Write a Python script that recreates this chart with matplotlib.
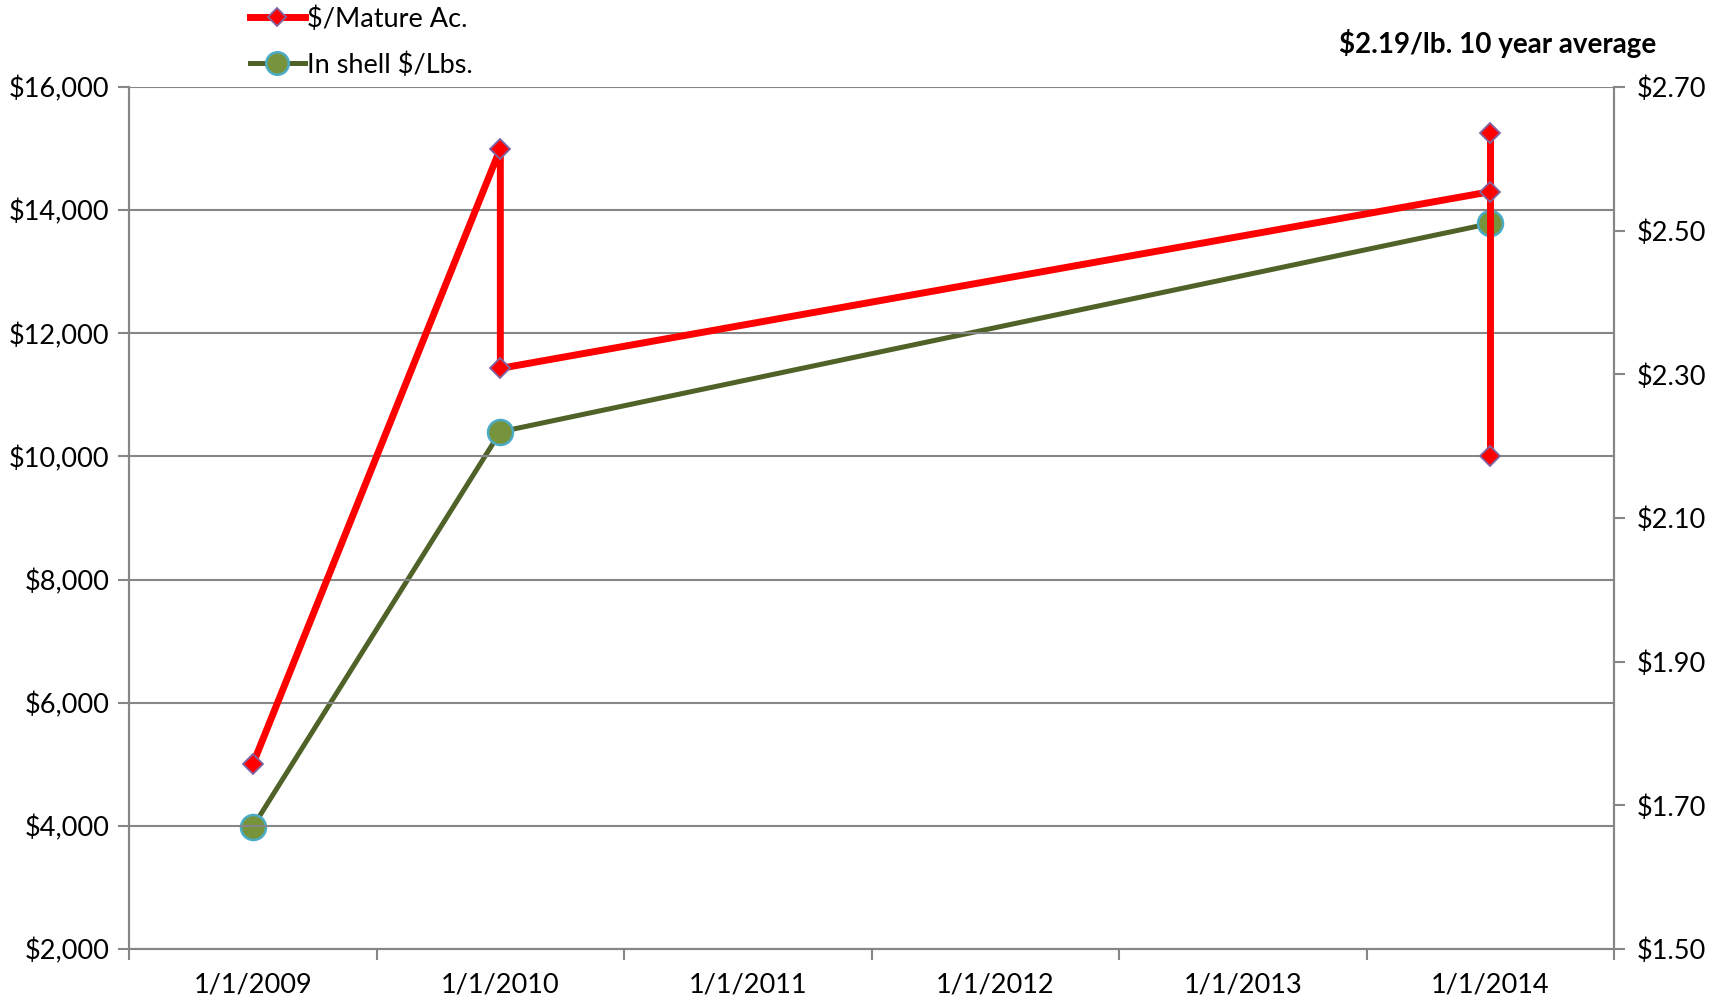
import matplotlib
matplotlib.use('Agg')
import matplotlib.pyplot as plt
from matplotlib.ticker import FuncFormatter

plt.rcParams['font.family'] = ['Lato', 'DejaVu Sans']

# data
categories = ['1/1/2009', '1/1/2010', '1/1/2011', '1/1/2012', '1/1/2013', '1/1/2014']
mature_dates = ['1/1/2009', '1/1/2010', '1/1/2010', '1/1/2014', '1/1/2014', '1/1/2014']
mature_values = [5000, 15000, 11430, 14300, 15250, 10000]
shell_dates = ['1/1/2009', '1/1/2010', '1/1/2014']
shell_values = [1.67, 2.22, 2.51]

mature_x = [categories.index(d) for d in mature_dates]
shell_x = [categories.index(d) for d in shell_dates]

grey = '#868686'
fs = 19.5

fig = plt.figure(figsize=(17.25, 10), dpi=100)
ax = fig.add_axes([0.0748, 0.051, 0.861, 0.862])
ax2 = ax.twinx()

ax.plot(mature_x, mature_values, color='#FF0000', lw=5, marker='D', ms=10,
        mfc='#FF0000', mec='#8064A2', mew=1.3, label='$/Mature Ac.', zorder=4)
ax2.plot(shell_x, shell_values, color='#4F6228', lw=3.6, marker='o', ms=18,
         mfc='#77933C', mec='#4BACC6', mew=1.8, label='In shell $/Lbs.', zorder=3)

ax.set_zorder(ax2.get_zorder() + 1)
ax.patch.set_visible(False)

ax.set_ylim(2000, 16000)
ax.set_yticks(range(2000, 16001, 2000))
ax.yaxis.set_major_formatter(FuncFormatter(lambda v, p: '${:,.0f}'.format(v)))
ax.grid(axis='y', color=grey, lw=1.5)

ax2.set_ylim(1.5, 2.7)
ax2.set_yticks([1.5, 1.7, 1.9, 2.1, 2.3, 2.5, 2.7])
ax2.yaxis.set_major_formatter(FuncFormatter(lambda v, p: '${:.2f}'.format(v)))

ax.set_xlim(-0.5, len(categories) - 0.5)
ax.set_xticks([i - 0.5 for i in range(len(categories) + 1)])
ax.set_xticklabels([])
ax.set_xticks(range(len(categories)), minor=True)
ax.set_xticklabels(categories, minor=True)
ax.tick_params(axis='x', which='minor', length=0, pad=17, labelsize=fs)
ax.tick_params(axis='x', which='major', length=8, width=1.5, color=grey)
ax.tick_params(axis='y', length=8, width=1.5, color=grey, labelsize=fs, pad=6)
ax2.tick_params(axis='y', length=8, width=1.5, color=grey, labelsize=fs, pad=8)

for a in (ax, ax2):
    a.spines['top'].set_visible(False)
    for s in ('left', 'right', 'bottom'):
        a.spines[s].set_color(grey)
        a.spines[s].set_linewidth(1.5)

fig.text(0.96, 0.956, '$2.19/lb. 10 year average', ha='right', va='center',
         fontsize=fs + 0.5, fontweight='bold')

h1, l1 = ax.get_legend_handles_labels()
h2, l2 = ax2.get_legend_handles_labels()
fig.legend(h1 + h2, l1 + l2, loc='upper left', bbox_to_anchor=(0.131, 1.018),
           frameon=False, fontsize=fs, handlelength=2.0, handletextpad=0.1,
           labelspacing=0.75, markerscale=0.9)

fig.savefig('out.png', dpi=100)
